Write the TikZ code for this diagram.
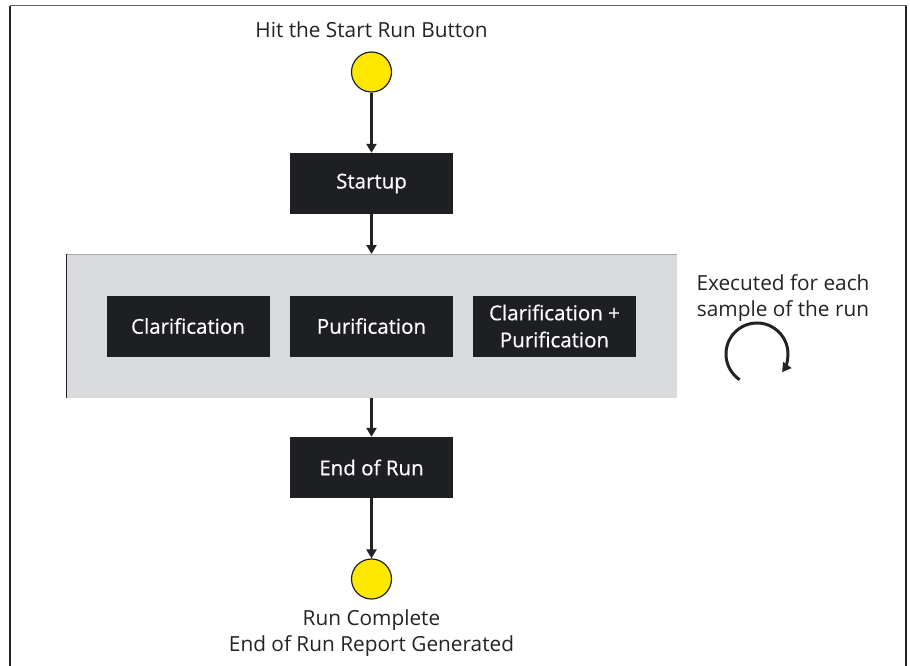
\documentclass[tikz,border=0pt]{standalone}
\usepackage{fontspec}
\setmainfont{Open Sans}[Ligatures={NoCommon}]
\newfontfamily\boxfont{Open Sans}[FakeBold=0.6, Ligatures={NoCommon}]
\usetikzlibrary{arrows.meta}
\definecolor{boxfill}{HTML}{1E1F22}
\definecolor{bandfill}{HTML}{D9DADC}
\definecolor{dot}{HTML}{FFE800}
\definecolor{ink}{HTML}{222326}
\tikzset{
  stepbox/.style={draw=none, fill=boxfill, text=white, minimum width=163pt, minimum height=61pt,
    inner sep=0pt, align=center, font=\boxfont\fontsize{20.5}{27}\selectfont},
  dotnode/.style={circle, draw=ink, line width=1.2pt, fill=dot, minimum size=40pt, inner sep=0pt},
  label/.style={text=ink, align=center, font=\fontsize{20.8}{26}\selectfont, inner sep=0pt},
  flow/.style={draw=ink, line width=2.8pt, -{Triangle[length=9pt,width=10pt]}}
}
\begin{document}
\begin{tikzpicture}[x=1pt,y=1pt]
  \useasboundingbox (0,0) rectangle (910,-666);
  % outer frame
  \draw[draw=ink!70, line width=1pt] (10,-666) -- (10,-6) -- (906,-6) -- (906,-666);
  \draw[draw=ink, line width=1.4pt] (10,-666) -- (10,-6);
  \draw[draw=ink, line width=1.4pt] (906,-6) -- (906,-666);
  % shaded band for the per-sample steps
  \fill[bandfill] (66,-254) rectangle (677,-398);
  \draw[ink!40, line width=0.8pt] (66,-254) -- (677,-254);
  \draw[ink, line width=1pt] (66,-254) -- (66,-398);
  \coordinate (bandtop) at (371.5,-254);
  \coordinate (bandbot) at (371.5,-398);

  \node[label] (startlbl) at (371.5,-30) {Hit the Start Run Button};
  \node[dotnode] (start) at (371.5,-72) {};
  \node[stepbox] (startup) at (371.5,-183.5) {Startup};
  \node[stepbox] (clar) at (188,-326) {Clarification};
  \node[stepbox] (puri) at (371.5,-326) {Purification};
  \node[stepbox] (both) at (554.5,-326) {Clarification +\\Purification};
  \node[stepbox] (endrun) at (371.5,-467.5) {End of Run};
  \node[dotnode] (finish) at (371.5,-579) {};
  \node[label] (endlbl) at (371.5,-633) {Run Complete\\End of Run Report Generated};
  \node[label] (loop) at (783,-298) {Executed for each\\sample of the run};

  % repeat marker
  \draw[ink, line width=3pt, -{Triangle[length=9pt,width=10pt]}]
    (757,-354) ++(236:31) arc[start angle=236, end angle=-36, radius=31];

  \draw[flow] (start) -- (startup);
  \draw[flow] (startup) -- (bandtop);
  \draw[flow] (bandbot) -- (endrun);
  \draw[flow] (endrun) -- (finish);
\end{tikzpicture}
\end{document}
